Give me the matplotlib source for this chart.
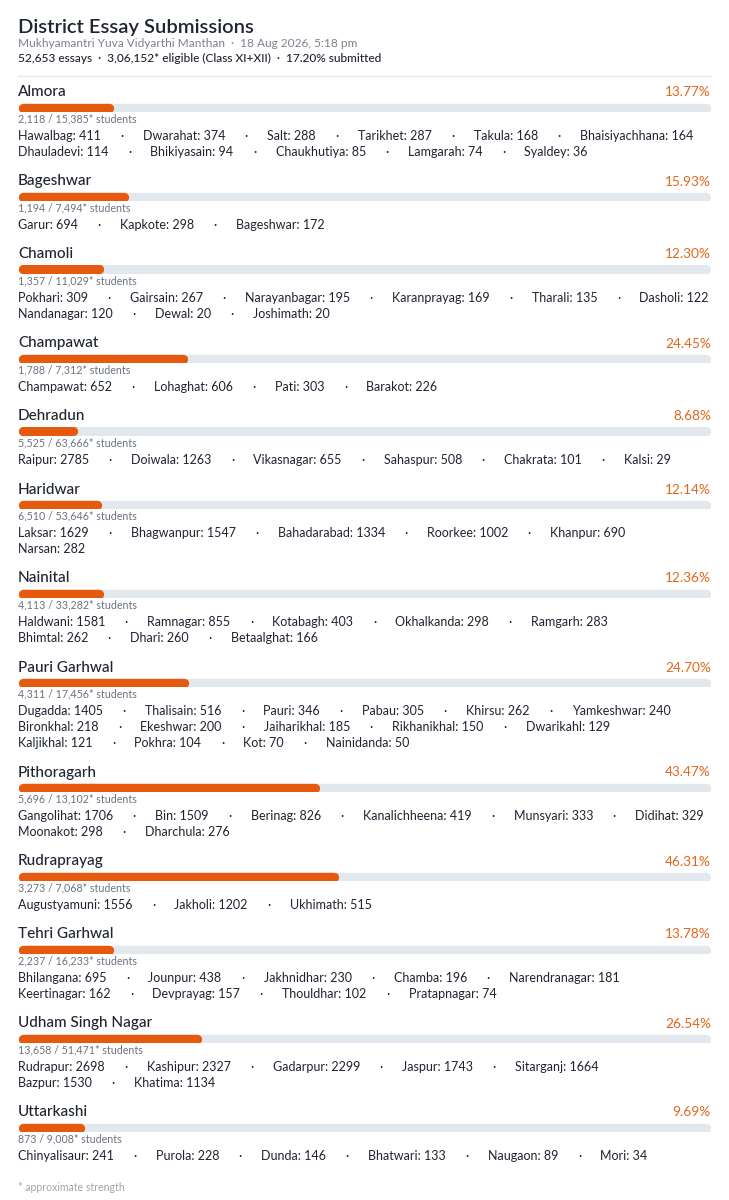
import matplotlib
matplotlib.use('Agg')
import matplotlib.pyplot as plt

# district level numbers
districts = ['Almora', 'Bageshwar', 'Chamoli', 'Champawat', 'Dehradun', 'Haridwar',
             'Nainital', 'Pauri Garhwal', 'Pithoragarh', 'Rudraprayag', 'Tehri Garhwal',
             'Udham Singh Nagar', 'Uttarkashi']
submitted = [2118, 1194, 1357, 1788, 5525, 6510, 4113, 4311, 5696, 3273, 2237, 13658, 873]
strength = [15385, 7494, 11029, 7312, 63666, 53646, 33282, 17456, 13102, 7068, 16233, 51471, 9008]
percent = [13.77, 15.93, 12.30, 24.45, 8.68, 12.14, 12.36, 24.70, 43.47, 46.31, 13.78, 26.54, 9.69]

# block level essay counts
blocks = [
    ['Hawalbag', 'Dwarahat', 'Salt', 'Tarikhet', 'Takula', 'Bhaisiyachhana',
     'Dhauladevi', 'Bhikiyasain', 'Chaukhutiya', 'Lamgarah', 'Syaldey'],
    ['Garur', 'Kapkote', 'Bageshwar'],
    ['Pokhari', 'Gairsain', 'Narayanbagar', 'Karanprayag', 'Tharali', 'Dasholi',
     'Nandanagar', 'Dewal', 'Joshimath'],
    ['Champawat', 'Lohaghat', 'Pati', 'Barakot'],
    ['Raipur', 'Doiwala', 'Vikasnagar', 'Sahaspur', 'Chakrata', 'Kalsi'],
    ['Laksar', 'Bhagwanpur', 'Bahadarabad', 'Roorkee', 'Khanpur', 'Narsan'],
    ['Haldwani', 'Ramnagar', 'Kotabagh', 'Okhalkanda', 'Ramgarh', 'Bhimtal',
     'Dhari', 'Betaalghat'],
    ['Dugadda', 'Thalisain', 'Pauri', 'Pabau', 'Khirsu', 'Yamkeshwar', 'Bironkhal',
     'Ekeshwar', 'Jaiharikhal', 'Rikhanikhal', 'Dwarikahl', 'Kaljikhal', 'Pokhra',
     'Kot', 'Nainidanda'],
    ['Gangolihat', 'Bin', 'Berinag', 'Kanalichheena', 'Munsyari', 'Didihat',
     'Moonakot', 'Dharchula'],
    ['Augustyamuni', 'Jakholi', 'Ukhimath'],
    ['Bhilangana', 'Jounpur', 'Jakhnidhar', 'Chamba', 'Narendranagar',
     'Keertinagar', 'Devprayag', 'Thouldhar', 'Pratapnagar'],
    ['Rudrapur', 'Kashipur', 'Gadarpur', 'Jaspur', 'Sitarganj', 'Bazpur', 'Khatima'],
    ['Chinyalisaur', 'Purola', 'Dunda', 'Bhatwari', 'Naugaon', 'Mori'],
]
block_counts = [
    [411, 374, 288, 287, 168, 164, 114, 94, 85, 74, 36],
    [694, 298, 172],
    [309, 267, 195, 169, 135, 122, 120, 20, 20],
    [652, 606, 303, 226],
    [2785, 1263, 655, 508, 101, 29],
    [1629, 1547, 1334, 1002, 690, 282],
    [1581, 855, 403, 298, 283, 262, 260, 166],
    [1405, 516, 346, 305, 262, 240, 218, 200, 185, 150, 129, 121, 104, 70, 50],
    [1706, 1509, 826, 419, 333, 329, 298, 276],
    [1556, 1202, 515],
    [695, 438, 230, 196, 181, 162, 157, 102, 74],
    [2698, 2327, 2299, 1743, 1664, 1530, 1134],
    [241, 228, 146, 133, 89, 34],
]

title = 'District Essay Submissions'
subtitle = 'Mukhyamantri Yuva Vidyarthi Manthan  \u00b7  18 Aug 2026, 5:18 pm'
summary = '52,653 essays  \u00b7  3,06,152* eligible (Class XI+XII)  \u00b7  17.20% submitted'
footnote = '* approximate strength'

plt.rcParams['font.family'] = ['Lato', 'DejaVu Sans']

W, H = 729, 1200
LEFT, RIGHT = 18, 711
ORANGE = '#e65a10'
TRACK = '#e3e7ee'
DARK = '#1e2430'
GREY = '#6b7280'

fig = plt.figure(figsize=(W / 100, H / 100), dpi=100)
fig.patch.set_facecolor('white')
ax = fig.add_axes([0, 0, 1, 1])
ax.set_xlim(0, W)
ax.set_ylim(H, 0)
ax.axis('off')
renderer = fig.canvas.get_renderer()

# header
ax.text(LEFT, 33.5, title, fontsize=14.5, weight='semibold', color=DARK, va='baseline')
ax.text(LEFT, 47, subtitle, fontsize=8.6, color='#7b818c', va='baseline')
ax.text(LEFT, 62.5, summary, fontsize=8.6, weight='medium', color=DARK, va='baseline')
ax.plot([LEFT, RIGHT], [76, 76], color='#e5e7eb', lw=1)

bar_h = 9.4
r = bar_h / 2 / (RIGHT - LEFT) * 100

y = 96.5
for i, name in enumerate(districts):
    ax.text(LEFT, y, name, fontsize=11, weight='medium', color=DARK, va='baseline')
    ax.text(RIGHT, y, f'{percent[i]:.2f}%', fontsize=9.8, color='#e2661c',
            ha='right', va='baseline')

    # progress bar
    cy = y + 11
    bax = fig.add_axes([LEFT / W, 1 - (cy + bar_h / 2) / H, (RIGHT - LEFT) / W, bar_h / H])
    bax.set_xlim(0, 100)
    bax.set_ylim(-0.5, 0.5)
    bax.axis('off')
    lw = bar_h * 0.72
    bax.plot([r, 100 - r], [0, 0], color=TRACK, lw=lw, solid_capstyle='round')
    bax.plot([r, max(percent[i] - r, r)], [0, 0], color=ORANGE, lw=lw, solid_capstyle='round')

    ax.text(LEFT, y + 26, f'{submitted[i]:,} / {strength[i]:,}* students',
            fontsize=7.7, color=GREY, va='baseline')

    # block list, wrapped to the width of the card
    x = LEFT
    ly = y + 43.5
    gap = 42
    for b, c in zip(blocks[i], block_counts[i]):
        t = ax.text(x, ly, f'{b}: {c}', fontsize=9, color=DARK, va='baseline')
        if x > LEFT:
            tw = t.get_window_extent(renderer).width
            if x + gap + tw > RIGHT + 1:
                x = LEFT
                ly += 16
            else:
                ax.text(x + gap / 2, ly, '\u00b7', fontsize=9, color=DARK,
                        ha='center', va='baseline')
                x += gap
            t.set_position((x, ly))
        x += t.get_window_extent(renderer).width
    y = ly + 29.5

ax.text(LEFT, y - 29.5 + 31, footnote, fontsize=7.6, color='#a0a5ae', va='baseline')

fig.savefig('out.png', dpi=100, facecolor='white')
